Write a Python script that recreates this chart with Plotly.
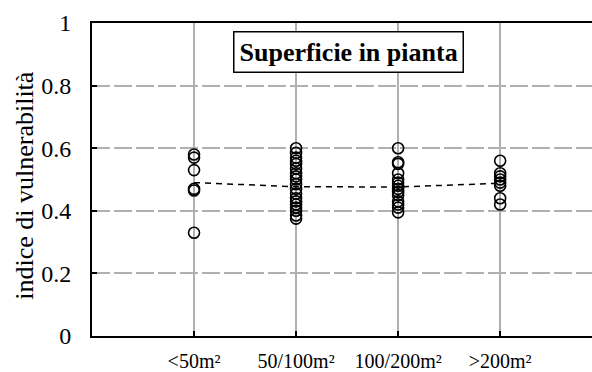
import plotly.graph_objects as go

# Floor-area classes and the vulnerability index of each building in them
categories = ["<50m²", "50/100m²", "100/200m²", ">200m²"]
cat_pos = [1, 2, 3, 4]

vals_lt50 = [0.58, 0.57, 0.53, 0.47, 0.465, 0.33]
vals_50_100 = [0.60, 0.585, 0.57, 0.56, 0.55, 0.535, 0.52, 0.51, 0.50, 0.485,
               0.47, 0.455, 0.44, 0.43, 0.42, 0.41, 0.40, 0.385, 0.375]
vals_100_200 = [0.60, 0.555, 0.55, 0.52, 0.50, 0.49, 0.48, 0.47, 0.46,
                0.45, 0.43, 0.42, 0.41, 0.395]
vals_gt200 = [0.56, 0.52, 0.51, 0.50, 0.49, 0.48, 0.44, 0.42]

# Mean index per class (dashed trend)
mean_vals = [0.49, 0.477, 0.476, 0.488]

y_ticks = [0, 0.2, 0.4, 0.6, 0.8, 1]
y_tick_text = ["0", "0.2", "0.4", "0.6", "0.8", "1"]

serif = "Liberation Serif, Times New Roman, serif"

fig = go.Figure()

for pos, vals in zip(cat_pos, [vals_lt50, vals_50_100, vals_100_200, vals_gt200]):
    fig.add_trace(go.Scatter(
        x=[pos] * len(vals), y=vals, mode="markers",
        marker=dict(symbol="circle-open", size=11, color="black",
                    line=dict(width=1.6, color="black")),
        showlegend=False, hoverinfo="y",
    ))

fig.add_trace(go.Scatter(
    x=cat_pos, y=mean_vals, mode="lines",
    line=dict(color="black", width=1.5, dash="6px,5px"),
    showlegend=False,
))

fig.update_layout(
    width=592, height=372,
    margin=dict(l=92, r=0, t=23, b=36, autoexpand=False),
    paper_bgcolor="white", plot_bgcolor="white",
    font=dict(family=serif, color="black"),
    xaxis=dict(
        range=[0, 4.9], tickvals=cat_pos, ticktext=categories,
        showgrid=True, gridcolor="#b0b0b0", gridwidth=1.5,
        showline=True, linecolor="black", linewidth=2, mirror=True,
        ticks="inside", ticklen=5, tickwidth=1.5, tickcolor="black",
        tickfont=dict(size=20, family=serif), ticklabelstandoff=6,
        zeroline=False, automargin=False,
    ),
    yaxis=dict(
        range=[0, 1], tickvals=y_ticks, ticktext=y_tick_text,
        showgrid=True, gridcolor="#b0b0b0", gridwidth=1.5, griddash="18px,4px",
        showline=True, linecolor="black", linewidth=2, mirror=False,
        ticks="inside", ticklen=5, tickwidth=1.5, tickcolor="black",
        tickfont=dict(size=24, family=serif), ticklabelstandoff=14,
        zeroline=False, automargin=False,
    ),
    annotations=[
        dict(text="indice di vulnerabilità", textangle=-90,
             xref="paper", x=0, xshift=-67, xanchor="center",
             yref="y", y=0.48, yanchor="middle", showarrow=False,
             font=dict(size=26, family=serif, color="black")),
        dict(text="<b>Superficie in pianta</b>",
             xref="x", x=2.51, yref="y", y=0.907,
             xanchor="center", yanchor="middle", showarrow=False,
             bgcolor="white", bordercolor="black", borderwidth=1.5, borderpad=5,
             font=dict(size=26, family=serif, color="black")),
    ],
)

fig.write_html("out.html")
